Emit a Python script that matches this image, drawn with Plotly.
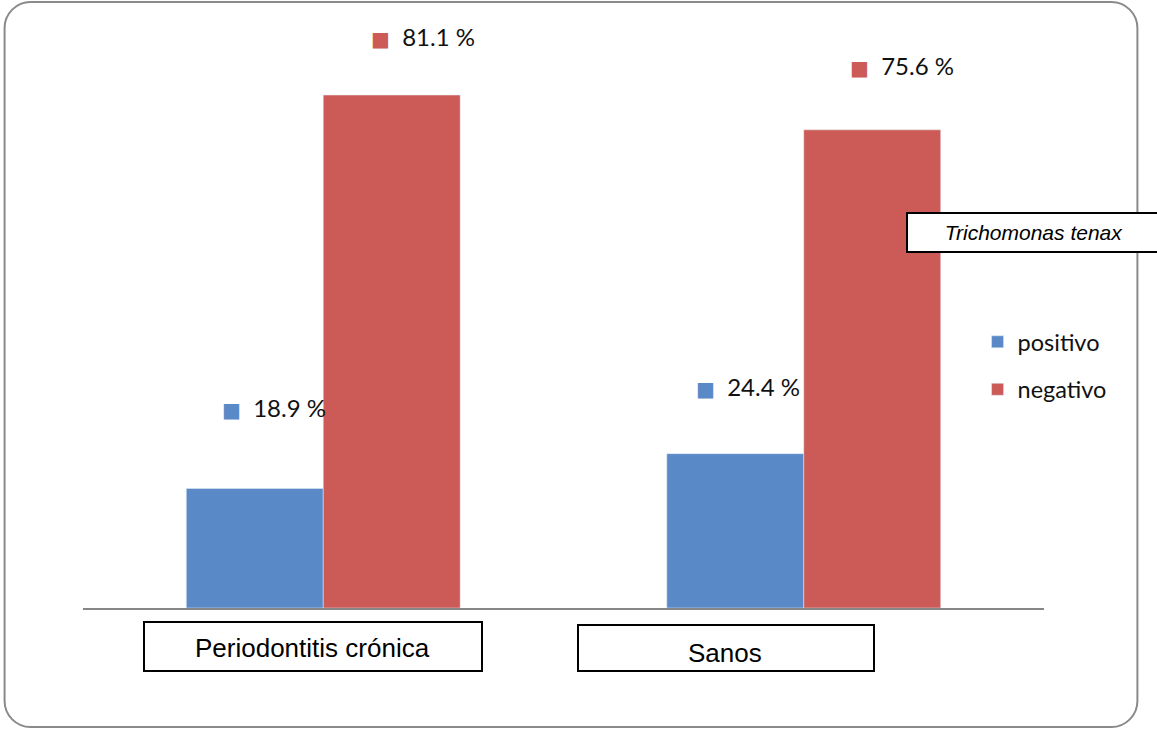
import plotly.graph_objects as go

# Chart data
categories = ["Periodontitis crónica", "Sanos"]
positivo = [18.9, 24.4]
negativo = [81.1, 75.6]
series_names = ["positivo", "negativo"]
subtitle = "Trichomonas tenax"

BLUE = "#598AC7"
RED = "#CC5B57"

W, H = 1157, 729
L, R, T, B = 82.5, 112.5, 30, 121
PLOT_W = W - L - R
PLOT_H = H - T - B
Y_MAX = PLOT_H / 6.325


def px(x):
    return (x - L) / PLOT_W


def py(y):
    return (H - B - y) / PLOT_H


fig = go.Figure()
fig.add_bar(x=categories, y=positivo, name=series_names[0], marker_color=BLUE,
            legendgroup="a")
fig.add_bar(x=categories, y=negativo, name=series_names[1], marker_color=RED,
            legendgroup="b")

# value labels: (series values, colour, [(xshift, yshift) per bar])
label_style = [
    (positivo, BLUE, [(-103, 81), (-110, 67)]),
    (negativo, RED, [(46, 59), (44, 64)]),
]
annotations = []
for values, color, shifts in label_style:
    for i, v in enumerate(values):
        dx, dy = shifts[i]
        annotations.append(dict(
            x=i, y=v, xref="x", yref="y", xanchor="left", yanchor="middle",
            xshift=dx, yshift=dy, showarrow=False,
            text=f'<span style="color:{color};font-family:DejaVu Sans;font-size:20px">■</span>'
                 f'&nbsp;&nbsp;{v} %',
            font=dict(family="Lato", size=24, color="#111111"),
        ))

# boxed category labels: (xshift, box width, box height, box centre y, text centre y)
cat_boxes = [(-10, 336, 47, 646.5, 648), (-78, 294, 44, 648, 653)]
for i, (dx, bw, bh, by, ty) in enumerate(cat_boxes):
    annotations.append(dict(
        x=i, y=py(by), xref="x", yref="paper", xanchor="center", yanchor="middle",
        xshift=dx, showarrow=False, text=" ",
        width=bw, height=bh, borderpad=0, bordercolor="#000000",
        borderwidth=2, bgcolor="white",
        font=dict(family="Liberation Sans", size=10),
    ))
    annotations.append(dict(
        x=i, y=py(ty), xref="x", yref="paper", xanchor="center", yanchor="middle",
        xshift=dx - 1, showarrow=False, text=categories[i],
        font=dict(family="Liberation Sans", size=26, color="#000000"),
    ))

# boxed subtitle
annotations.append(dict(
    x=px(1034), y=py(232.5), xref="paper", yref="paper",
    xanchor="center", yanchor="middle", showarrow=False,
    text=f"<i>{subtitle}</i>", width=252, height=37, borderpad=0,
    bordercolor="#000000", borderwidth=2, bgcolor="white",
    font=dict(family="Liberation Sans", size=21, color="#000000"),
))

# rounded outer frame
x0, y0, x1, y1, r = 4, 2, 1138, 727, 26
k = 0.45
path = (
    f"M {px(x0 + r)},{py(y0)} L {px(x1 - r)},{py(y0)} "
    f"C {px(x1 - r * k)},{py(y0)} {px(x1)},{py(y0 + r * k)} {px(x1)},{py(y0 + r)} "
    f"L {px(x1)},{py(y1 - r)} "
    f"C {px(x1)},{py(y1 - r * k)} {px(x1 - r * k)},{py(y1)} {px(x1 - r)},{py(y1)} "
    f"L {px(x0 + r)},{py(y1)} "
    f"C {px(x0 + r * k)},{py(y1)} {px(x0)},{py(y1 - r * k)} {px(x0)},{py(y1 - r)} "
    f"L {px(x0)},{py(y0 + r)} "
    f"C {px(x0)},{py(y0 + r * k)} {px(x0 + r * k)},{py(y0)} {px(x0 + r)},{py(y0)} Z"
)

fig.update_layout(
    width=W, height=H,
    margin=dict(l=L, r=R, t=T, b=B, pad=0),
    paper_bgcolor="white", plot_bgcolor="white",
    barmode="group", bargap=0.43, bargroupgap=0,
    showlegend=True,
    legend=dict(x=px(978), y=py(320), xanchor="left", yanchor="top",
                font=dict(family="Lato", size=23.5, color="#111111"),
                traceorder="grouped", tracegroupgap=14, itemwidth=30,
                bgcolor="rgba(0,0,0,0)"),
    xaxis=dict(range=[-0.5, 1.5], showticklabels=False, ticks="",
               showline=True, linecolor="#868686", linewidth=1.5,
               showgrid=False, zeroline=False),
    yaxis=dict(range=[0, Y_MAX], visible=False, showgrid=False),
    annotations=annotations,
    shapes=[dict(type="path", xref="paper", yref="paper", path=path,
                 line=dict(color="#8A8A8A", width=2), layer="below")],
)

fig.write_html("out.html")
